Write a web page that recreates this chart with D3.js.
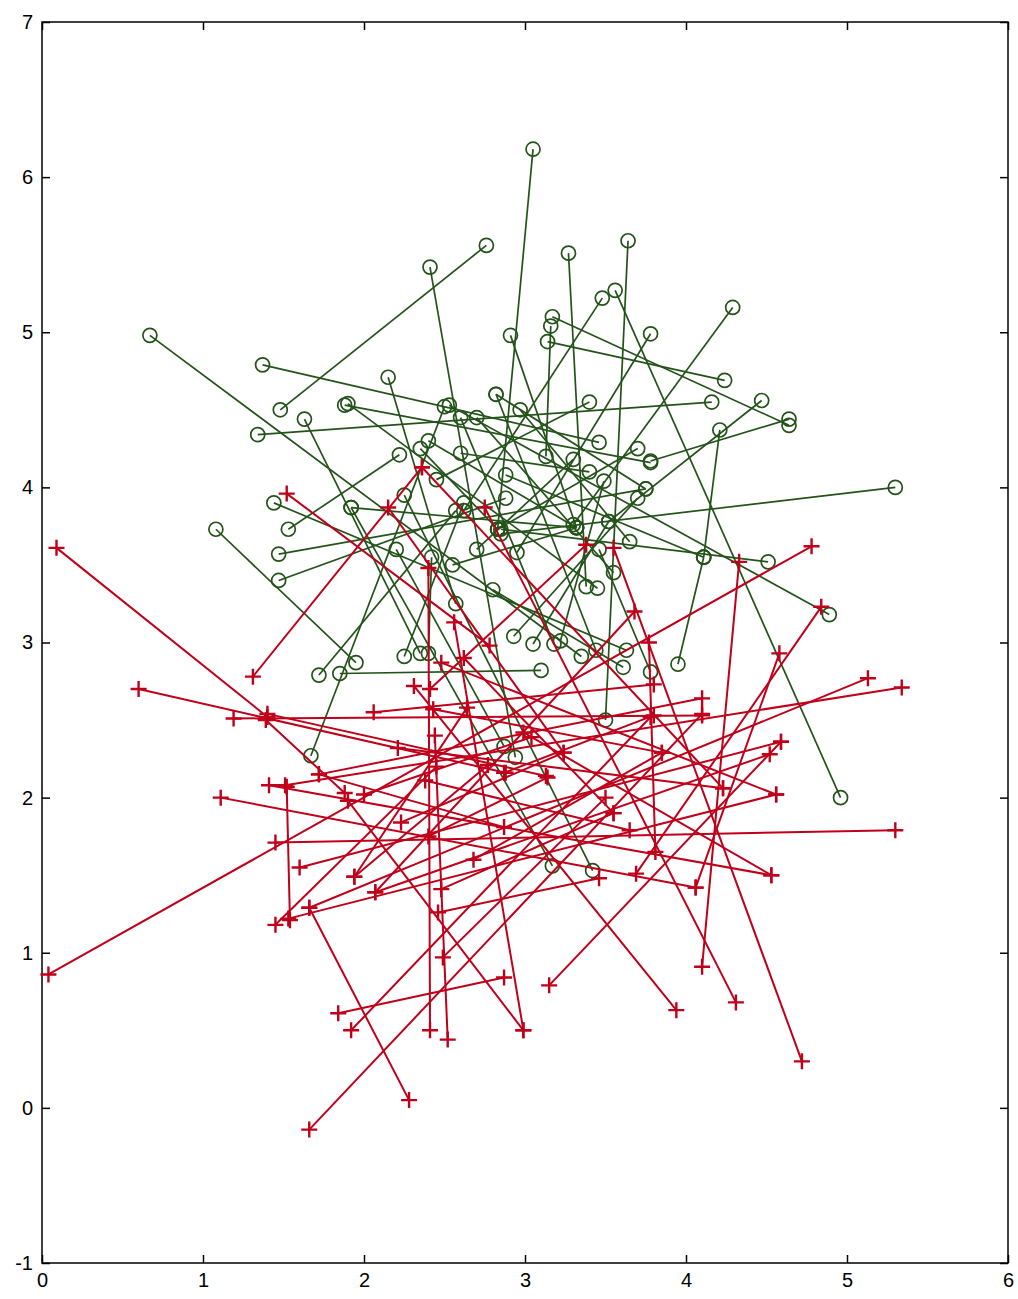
<!DOCTYPE html>
<html>
<head>
<meta charset="utf-8">
<script src="https://cdn.jsdelivr.net/npm/d3@7/dist/d3.min.js"></script>
<style>
  html, body { margin: 0; padding: 0; background: #fff; }
  svg { display: block; }
  .tick text { font-family: "Liberation Sans", Arial, sans-serif; font-size: 20px; fill: #000; }
</style>
</head>
<body>
<svg id="chart" width="1018" height="1299"></svg>
<script>
// Axis ticks
const xTicks = [0, 1, 2, 3, 4, 5, 6];
const yTicks = [-1, 0, 1, 2, 3, 4, 5, 6, 7];

// Green segments: [x1, y1, x2, y2], circle markers at both ends
const greenSegments = [
  [3.05, 6.18, 2.83, 3.73],
  [0.67, 4.98, 3.35, 2.91],
  [2.76, 5.56, 1.48, 4.50],
  [2.41, 5.42, 2.94, 2.26],
  [3.27, 5.51, 3.38, 3.36],
  [3.64, 5.59, 3.50, 2.50],
  [3.56, 5.27, 4.96, 2.00],
  [3.48, 5.22, 2.62, 3.85],
  [3.17, 5.10, 4.64, 4.40],
  [3.14, 4.94, 4.24, 4.69],
  [3.16, 5.04, 3.13, 4.20],
  [2.91, 4.98, 3.32, 3.74],
  [3.78, 4.99, 2.95, 3.58],
  [4.29, 5.16, 3.30, 3.76],
  [1.37, 4.79, 3.46, 4.29],
  [2.15, 4.71, 2.57, 3.25],
  [1.34, 4.34, 4.16, 4.55],
  [1.63, 4.44, 2.35, 2.93],
  [1.90, 4.54, 3.45, 3.35],
  [1.88, 4.53, 3.78, 4.16],
  [4.47, 4.56, 3.52, 3.78],
  [1.67, 2.27, 2.50, 4.52],
  [1.44, 3.90, 3.63, 2.95],
  [1.53, 3.73, 2.22, 4.21],
  [1.47, 3.57, 3.75, 3.99],
  [1.47, 3.40, 2.88, 3.93],
  [1.08, 3.73, 1.95, 2.87],
  [1.72, 2.79, 2.57, 3.85],
  [1.85, 2.80, 3.10, 2.82],
  [2.25, 2.91, 2.62, 3.90],
  [2.40, 2.93, 2.42, 3.55],
  [3.95, 2.86, 4.11, 3.55],
  [5.30, 4.00, 2.85, 3.70],
  [4.51, 3.52, 2.85, 3.73],
  [4.89, 3.18, 2.53, 4.53],
  [4.11, 3.55, 4.21, 4.37],
  [4.11, 3.55, 2.88, 4.08],
  [3.78, 4.17, 4.64, 4.44],
  [1.92, 3.87, 3.17, 1.56],
  [3.42, 1.53, 2.25, 3.95],
  [2.87, 2.33, 2.20, 3.60],
  [2.93, 3.04, 3.70, 3.93],
  [3.61, 2.84, 2.80, 3.34],
  [3.78, 2.81, 3.46, 3.60],
  [3.18, 2.99, 2.60, 4.45],
  [3.05, 2.99, 3.52, 3.78],
  [3.22, 3.01, 3.49, 4.04],
  [3.44, 2.95, 2.82, 4.60],
  [2.97, 4.50, 3.65, 3.65],
  [2.82, 4.60, 3.75, 3.99],
  [1.92, 3.87, 3.32, 3.74],
  [2.60, 4.22, 3.40, 4.10],
  [3.30, 4.18, 2.70, 3.60],
  [2.45, 4.05, 3.40, 4.55],
  [2.70, 4.45, 3.55, 3.45],
  [2.35, 4.25, 2.83, 3.73],
  [2.83, 3.73, 3.70, 4.25],
  [2.55, 3.50, 3.32, 3.74],
  [3.32, 3.74, 2.40, 4.30]
];

// Red segments: [x1, y1, x2, y2], plus markers at both ends
const redSegments = [
  [0.09, 3.61, 1.40, 2.52],
  [0.60, 2.70, 2.88, 2.16],
  [1.19, 2.51, 4.10, 2.53],
  [1.40, 2.54, 3.13, 2.14],
  [1.39, 2.50, 1.88, 2.03],
  [1.31, 2.78, 2.36, 4.13],
  [1.52, 3.96, 2.78, 2.98],
  [2.15, 3.87, 3.24, 2.29],
  [2.36, 4.13, 4.23, 2.06],
  [2.75, 3.87, 4.31, 0.68],
  [0.04, 0.86, 4.78, 3.62],
  [4.33, 3.52, 4.10, 0.91],
  [4.72, 0.30, 3.55, 3.61],
  [3.38, 3.63, 2.41, 2.70],
  [2.40, 3.48, 2.41, 0.50],
  [2.52, 0.44, 2.44, 2.40],
  [2.56, 3.13, 2.99, 0.50],
  [3.68, 3.20, 2.07, 1.39],
  [1.66, -0.14, 4.10, 2.54],
  [1.66, 1.29, 2.28, 0.05],
  [1.84, 0.61, 2.87, 0.84],
  [1.92, 0.50, 3.78, 2.52],
  [1.45, 1.71, 5.30, 1.79],
  [1.60, 1.55, 4.59, 2.36],
  [1.52, 2.07, 1.54, 1.21],
  [1.45, 1.18, 2.45, 2.20],
  [1.66, 1.29, 5.13, 2.77],
  [1.51, 2.08, 5.34, 2.71],
  [4.56, 2.02, 1.53, 1.22],
  [2.07, 1.39, 4.52, 2.28],
  [3.15, 0.79, 4.59, 2.36],
  [2.31, 2.72, 3.94, 0.63],
  [4.53, 1.50, 2.99, 2.42],
  [4.06, 1.42, 4.58, 2.93],
  [3.69, 1.51, 4.84, 3.23],
  [2.99, 0.50, 1.90, 1.98],
  [4.10, 2.64, 1.72, 2.15],
  [3.77, 3.00, 3.81, 1.65],
  [1.11, 2.00, 4.06, 1.42],
  [1.41, 2.08, 4.53, 1.50],
  [2.48, 2.87, 4.56, 2.02],
  [2.62, 2.90, 3.55, 1.90],
  [2.43, 2.57, 3.85, 2.29],
  [2.64, 2.58, 1.94, 1.49],
  [2.06, 2.55, 3.80, 2.73],
  [2.21, 2.32, 4.23, 2.06],
  [2.38, 2.11, 3.65, 1.79],
  [2.77, 2.21, 1.94, 1.49],
  [2.87, 2.16, 3.80, 2.53],
  [3.04, 2.39, 2.00, 2.02],
  [3.24, 2.29, 2.23, 1.84],
  [3.14, 2.13, 2.40, 1.75],
  [2.87, 1.81, 1.72, 2.15],
  [3.55, 1.90, 2.48, 1.41],
  [2.68, 1.60, 3.85, 2.29],
  [2.49, 0.97, 3.50, 2.00],
  [2.46, 1.26, 3.46, 1.48]
];

const GREEN = "#24531a";
const RED = "#c0001a";

const svg = d3.select("#chart");
const plotLeft = 42, plotRight = 1008, plotTop = 22, plotBottom = 1263;

const x = d3.scaleLinear().domain([0, 6]).range([plotLeft, plotRight]);
const y = d3.scaleLinear().domain([-1, 7]).range([plotBottom, plotTop]);

// Plain integer labels with an ASCII hyphen for negatives
const intLabel = d => String(d);

// Axes with inward ticks on all four sides
const tickLen = 8;
svg.append("g")
  .attr("transform", `translate(0,${plotBottom})`)
  .call(d3.axisBottom(x).tickValues(xTicks).tickFormat(intLabel).tickSizeInner(-tickLen).tickSizeOuter(0).tickPadding(10))
  .call(g => g.select(".domain").remove());
svg.append("g")
  .attr("transform", `translate(0,${plotTop})`)
  .call(d3.axisTop(x).tickValues(xTicks).tickSizeInner(-tickLen).tickSizeOuter(0).tickFormat(""))
  .call(g => g.select(".domain").remove());
svg.append("g")
  .attr("transform", `translate(${plotLeft},0)`)
  .call(d3.axisLeft(y).tickValues(yTicks).tickFormat(intLabel).tickSizeInner(-tickLen).tickSizeOuter(0).tickPadding(9))
  .call(g => g.select(".domain").remove());
svg.append("g")
  .attr("transform", `translate(${plotRight},0)`)
  .call(d3.axisRight(y).tickValues(yTicks).tickSizeInner(-tickLen).tickSizeOuter(0).tickFormat(""))
  .call(g => g.select(".domain").remove());
svg.selectAll(".tick line").attr("stroke", "#000").attr("stroke-width", 1.5);

// Frame
svg.append("rect")
  .attr("x", plotLeft).attr("y", plotTop)
  .attr("width", plotRight - plotLeft).attr("height", plotBottom - plotTop)
  .attr("fill", "none").attr("stroke", "#000").attr("stroke-width", 1.5);

const plot = svg.append("g");

// Green set: lines then circles
plot.append("g").selectAll("line").data(greenSegments).join("line")
  .attr("x1", d => x(d[0])).attr("y1", d => y(d[1]))
  .attr("x2", d => x(d[2])).attr("y2", d => y(d[3]))
  .attr("stroke", GREEN).attr("stroke-width", 1.7);

const greenPts = greenSegments.flatMap(d => [[d[0], d[1]], [d[2], d[3]]]);
plot.append("g").selectAll("circle").data(greenPts).join("circle")
  .attr("cx", d => x(d[0])).attr("cy", d => y(d[1])).attr("r", 7)
  .attr("fill", "none").attr("stroke", GREEN).attr("stroke-width", 1.7);

// Red set: lines then plus markers
plot.append("g").selectAll("line").data(redSegments).join("line")
  .attr("x1", d => x(d[0])).attr("y1", d => y(d[1]))
  .attr("x2", d => x(d[2])).attr("y2", d => y(d[3]))
  .attr("stroke", RED).attr("stroke-width", 2);

const redPts = redSegments.flatMap(d => [[d[0], d[1]], [d[2], d[3]]]);
const plusSize = 8;
plot.append("g").selectAll("path").data(redPts).join("path")
  .attr("d", d => {
    const cx = x(d[0]), cy = y(d[1]);
    return `M${cx - plusSize},${cy}H${cx + plusSize}M${cx},${cy - plusSize}V${cy + plusSize}`;
  })
  .attr("stroke", RED).attr("stroke-width", 2.4).attr("fill", "none");
</script>
</body>
</html>
